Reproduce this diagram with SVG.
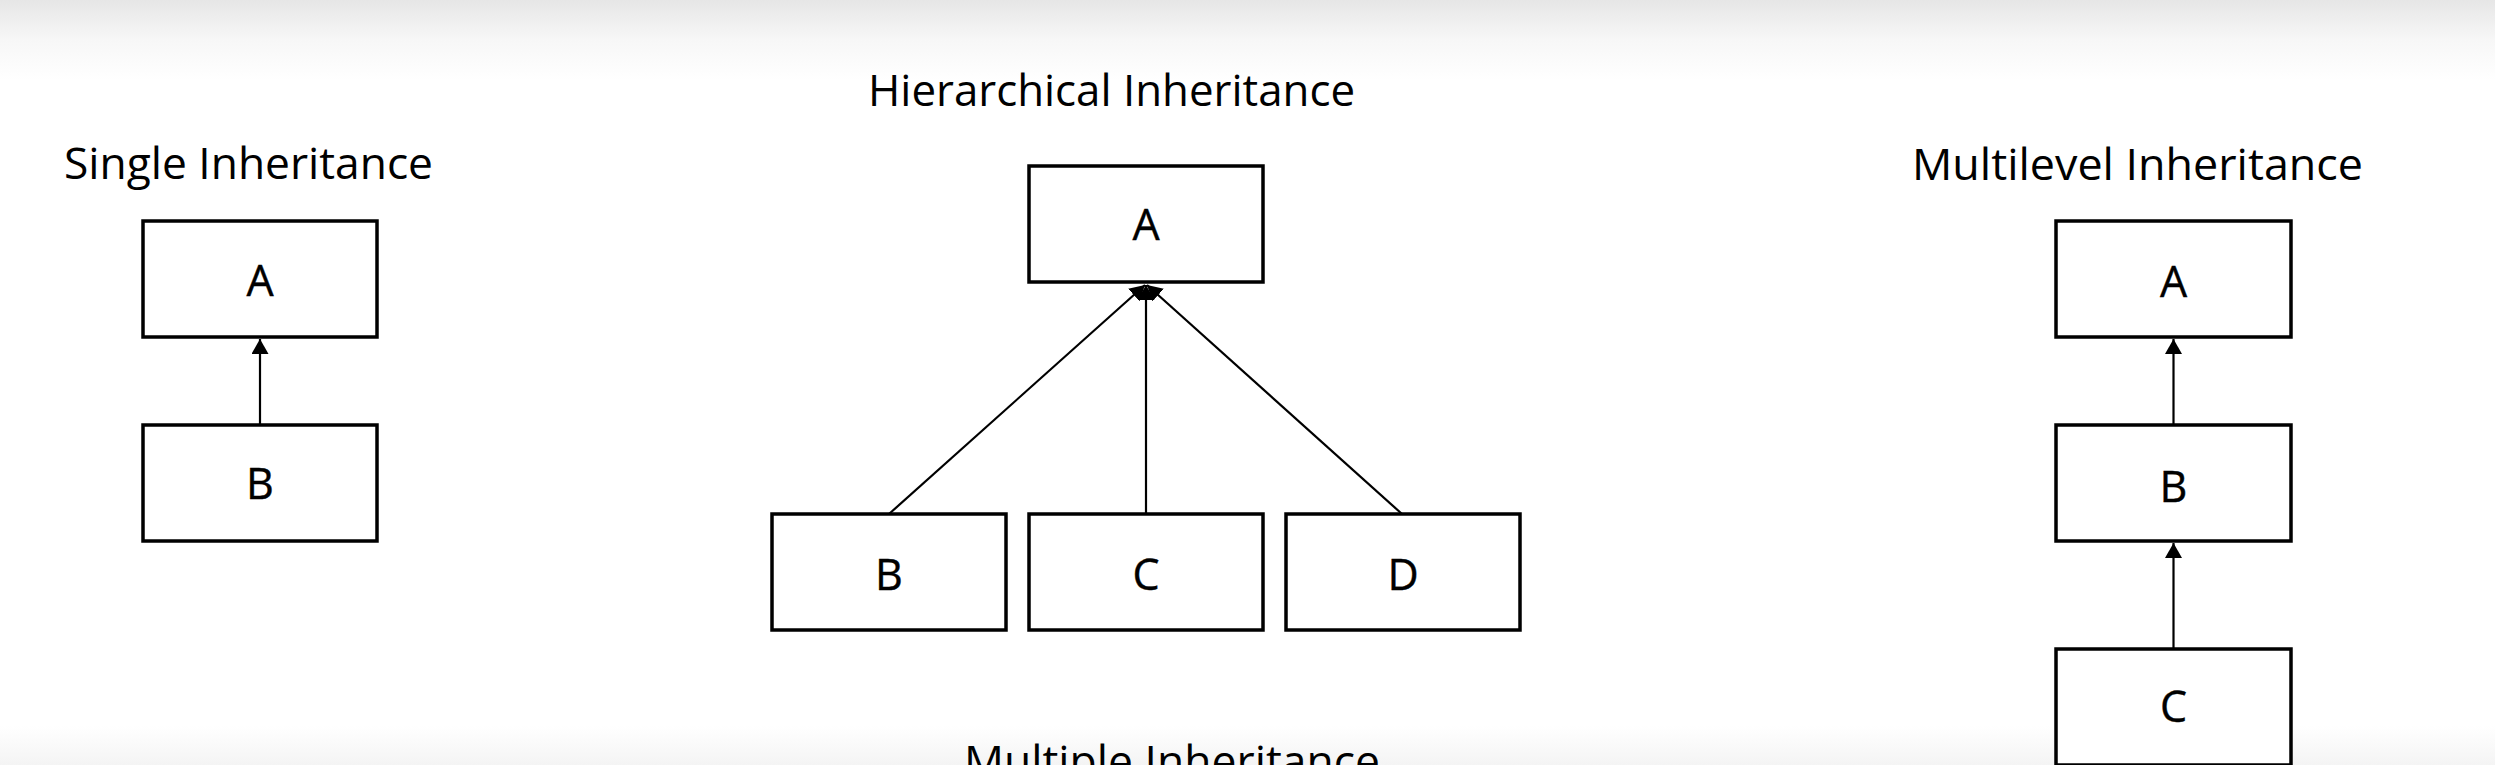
<svg xmlns="http://www.w3.org/2000/svg" width="2495" height="765" viewBox="0 0 2495 765">
<style>
.box{fill:#ffffff;stroke:#000000;stroke-width:3.5}
.lbl{font-family:"Open Sans","Liberation Sans",sans-serif;font-size:43px;fill:#000000;text-anchor:middle;stroke:#000000;stroke-width:0.4}
.ttl{font-family:"Open Sans","Liberation Sans",sans-serif;font-size:43px;fill:#000000;text-anchor:middle}
.conn{stroke:#000000;stroke-width:2.2;fill:none;marker-end:url(#arrow)}
</style>
<defs>
<linearGradient id="topg" x1="0" y1="0" x2="0" y2="1">
<stop offset="0" stop-color="#e6e6e6"/>
<stop offset="0.5" stop-color="#f7f7f7"/>
<stop offset="1" stop-color="#ffffff"/>
</linearGradient>
<linearGradient id="botg" x1="0" y1="0" x2="0" y2="1">
<stop offset="0" stop-color="#ffffff"/>
<stop offset="1" stop-color="#f4f4f4"/>
</linearGradient>
<marker id="arrow" markerUnits="userSpaceOnUse" viewBox="0 0 15 17" refX="15" refY="8.5" markerWidth="15" markerHeight="17" orient="auto">
<path d="M0,0 L15,8.5 L0,17 z" fill="#000000"/>
</marker>
</defs>
<rect x="0" y="0" width="2495" height="765" fill="#ffffff"/>
<rect x="0" y="0" width="2495" height="80" fill="url(#topg)"/>
<rect x="0" y="726" width="2495" height="39" fill="url(#botg)"/>

<g id="titles">
<text class="ttl" x="248.5" y="179" textLength="369" lengthAdjust="spacingAndGlyphs">Single Inheritance</text>
<text class="ttl" x="1111.5" y="106" textLength="487" lengthAdjust="spacingAndGlyphs">Hierarchical Inheritance</text>
<text class="ttl" x="2137.5" y="180" textLength="451" lengthAdjust="spacingAndGlyphs">Multilevel Inheritance</text>
<text class="ttl" x="1172" y="777" textLength="416" lengthAdjust="spacingAndGlyphs">Multiple Inheritance</text>
</g>

<g id="connectors">
<line class="conn" x1="260" y1="424" x2="260" y2="339"/>
<line class="conn" x1="889" y1="514" x2="1145" y2="285"/>
<line class="conn" x1="1146" y1="514" x2="1146" y2="285"/>
<line class="conn" x1="1402" y1="514" x2="1147" y2="285"/>
<line class="conn" x1="2173.5" y1="424" x2="2173.5" y2="339"/>
<line class="conn" x1="2173.5" y1="648" x2="2173.5" y2="543"/>
</g>

<g id="single-A"><rect class="box" x="143" y="221" width="234" height="116"/><text class="lbl" x="260" y="296">A</text></g>
<g id="single-B"><rect class="box" x="143" y="425" width="234" height="116"/><text class="lbl" x="260" y="499">B</text></g>

<g id="hier-A"><rect class="box" x="1029" y="166" width="234" height="116"/><text class="lbl" x="1146" y="240">A</text></g>
<g id="hier-B"><rect class="box" x="772" y="514" width="234" height="116"/><text class="lbl" x="889" y="590">B</text></g>
<g id="hier-C"><rect class="box" x="1029" y="514" width="234" height="116"/><text class="lbl" x="1146" y="590">C</text></g>
<g id="hier-D"><rect class="box" x="1286" y="514" width="234" height="116"/><text class="lbl" x="1403" y="590">D</text></g>

<g id="multi-A"><rect class="box" x="2056" y="221" width="235" height="116"/><text class="lbl" x="2173.5" y="297">A</text></g>
<g id="multi-B"><rect class="box" x="2056" y="425" width="235" height="116"/><text class="lbl" x="2173.5" y="502">B</text></g>
<g id="multi-C"><rect class="box" x="2056" y="649" width="235" height="116"/><text class="lbl" x="2173.5" y="722">C</text></g>
</svg>
